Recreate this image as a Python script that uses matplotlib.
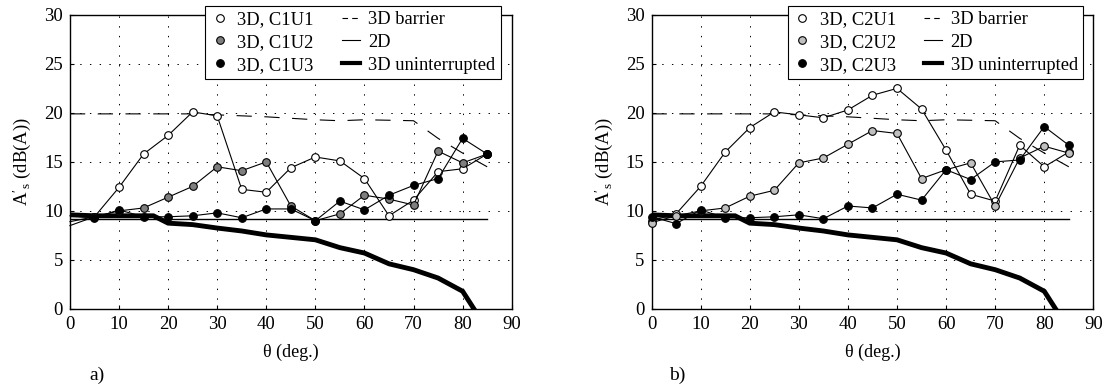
import matplotlib
matplotlib.use('Agg')
import matplotlib.pyplot as plt
from matplotlib.lines import Line2D

plt.rcParams['font.family'] = ['Liberation Serif', 'DejaVu Serif']
plt.rcParams['mathtext.fontset'] = 'custom'
plt.rcParams['mathtext.rm'] = 'Liberation Serif'
plt.rcParams['mathtext.it'] = 'Liberation Serif:italic'
plt.rcParams['lines.scale_dashes'] = False

# angle of incidence (deg.)
theta = [0, 5, 10, 15, 20, 25, 30, 35, 40, 45, 50, 55, 60, 65, 70, 75, 80, 85]

# panel a) measured 3D points
c1u1 = [8.5, 9.4, 12.4, 15.8, 17.7, 20.1, 19.7, 12.2, 11.9, 14.4, 15.5, 15.1, 13.3, 9.5, 11.1, 14.0, 14.3, 15.8]
c1u2 = [8.9, 9.4, 10.0, 10.3, 11.4, 12.5, 14.5, 14.1, 15.0, 10.5, 9.0, 9.7, 11.6, 11.2, 10.6, 16.1, 14.9, 15.8]
c1u3 = [9.5, 9.3, 10.1, 9.4, 9.4, 9.5, 9.8, 9.3, 10.2, 10.2, 9.0, 11.0, 10.1, 11.6, 12.6, 13.3, 17.4, 15.8]

# panel b)
c2u1 = [9.0, 9.7, 12.5, 16.0, 18.5, 20.1, 19.8, 19.5, 20.3, 21.8, 22.5, 20.4, 16.2, 11.7, 11.0, 16.7, 14.5, 16.0]
c2u2 = [8.8, 9.5, 10.0, 10.3, 11.5, 12.1, 14.9, 15.4, 16.8, 18.2, 17.9, 13.3, 14.2, 14.9, 10.5, 15.4, 16.6, 15.9]
c2u3 = [9.4, 8.7, 10.1, 9.3, 9.3, 9.4, 9.6, 9.2, 10.5, 10.3, 11.7, 11.1, 14.2, 13.2, 15.0, 15.2, 18.6, 16.7]

# reference curves (same in both panels)
barrier = [19.9, 19.9, 19.9, 19.9, 19.9, 19.9, 19.8, 19.7, 19.6, 19.45, 19.3, 19.2, 19.3, 19.25, 19.2, 17.4, 15.9, 14.5]
theta_2d = [0, 85]
flat_2d = [9.2, 9.2]
theta_un = [0, 5, 10, 15, 17, 20, 25, 30, 35, 40, 45, 50, 55, 60, 65, 70, 75, 80, 85]
uninterrupted = [9.6, 9.5, 9.5, 9.5, 9.5, 8.75, 8.6, 8.25, 7.95, 7.55, 7.3, 7.05, 6.25, 5.7, 4.6, 4.0, 3.15, 1.8, -2.1]

panels = [
    ('a)', ['3D, C1U1', '3D, C1U2', '3D, C1U3'], [c1u1, c1u2, c1u3], ['white', '#7f7f7f', 'black'], False),
    ('b)', ['3D, C2U1', '3D, C2U2', '3D, C2U3'], [c2u1, c2u2, c2u3], ['white', '#c0c0c0', 'black'], True),
]

fig = plt.figure(figsize=(11.1, 3.92), dpi=100)
ax_pos = [[0.063, 0.212, 0.398, 0.750], [0.587, 0.212, 0.398, 0.750]]
leg_anchor = [(0.4514, 0.9855), (0.9760, 0.9855)]
tag_x = [0.087, 0.610]

for i, (tag, names, series, colors, mark_zero) in enumerate(panels):
    ax = fig.add_axes(ax_pos[i])
    ax.plot(theta, barrier, color='black', lw=0.8, dashes=(11, 9))
    ax.plot(theta_2d, flat_2d, color='black', lw=1.0)
    ax.plot(theta_un, uninterrupted, color='black', lw=3.5, solid_joinstyle='miter')
    start = 0 if mark_zero else 1
    for vals, col in zip(series, colors):
        ax.plot(theta, vals, color='black', lw=0.8, marker='o', ms=5.5,
                mfc=col, mec='black', mew=0.8, markevery=slice(start, None),
                clip_on=False, zorder=3)

    ax.set_xlim(0, 90)
    ax.set_ylim(0, 30)
    ax.set_xticks(range(0, 91, 10))
    ax.set_yticks(range(0, 31, 5))
    ax.tick_params(direction='in', length=3, labelsize=13.5, pad=5)
    ax.grid(True, color='black', linestyle=(0, (1, 6)), lw=0.7)
    for sp in ax.spines.values():
        sp.set_linewidth(1.0)
    ax.set_xlabel('θ (deg.)', fontsize=13, labelpad=8)
    ax.set_ylabel("$\\mathrm{A}'_\\mathrm{s}$ (dB(A))", fontsize=13.5, labelpad=8)

    handles = [Line2D([], [], ls='none', marker='o', ms=5.5, mfc=c, mec='black', mew=0.8) for c in colors]
    handles += [Line2D([], [], color='black', lw=0.8, dashes=(4, 3)),
                Line2D([], [], color='black', lw=0.8),
                Line2D([], [], color='black', lw=3)]
    labels = names + ['3D barrier', '2D', '3D uninterrupted']
    leg = ax.legend(handles, labels, ncol=2, loc='upper right', bbox_to_anchor=leg_anchor[i],
                    bbox_transform=fig.transFigure, fontsize=13.3, frameon=True, fancybox=False,
                    framealpha=1, edgecolor='black', handlelength=1.0, handletextpad=0.45,
                    columnspacing=1.5, labelspacing=0.31, borderpad=0.3, borderaxespad=0)
    leg.get_frame().set_linewidth(0.8)
    leg.set_zorder(5)

    fig.text(tag_x[i], 0.043, tag, fontsize=14, ha='center', va='center')

fig.savefig('out.png', dpi=100)
